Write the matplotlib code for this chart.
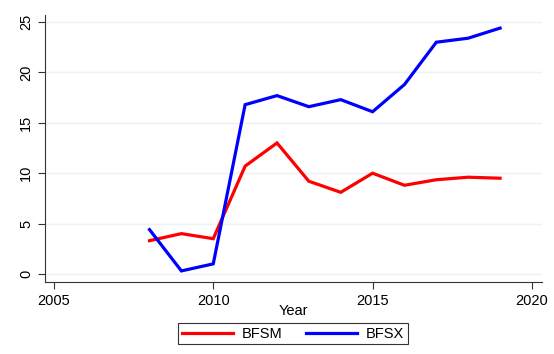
import numpy as np
import matplotlib
matplotlib.use('Agg')
import matplotlib.pyplot as plt

plt.rcParams['font.family'] = ['Liberation Sans', 'DejaVu Sans']

# data
years = [2008, 2009, 2010, 2011, 2012, 2013, 2014, 2015, 2016, 2017, 2018, 2019]
bfsm = [3.3, 4.0, 3.5, 10.7, 13.0, 9.2, 8.1, 10.0, 8.8, 9.35, 9.6, 9.5]
bfsx = [4.4, 0.3, 1.0, 16.8, 17.7, 16.6, 17.3, 16.1, 18.8, 23.0, 23.4, 24.4]
xticks = [2005, 2010, 2015, 2020]
yticks = [0, 5, 10, 15, 20, 25]

fig = plt.figure(figsize=(5.54, 3.54), dpi=100)
ax = fig.add_axes([0.0812, 0.2034, 0.8968, 0.7542])

ax.plot(years, bfsm, color='#ff0000', lw=2.3, label='BFSM', solid_joinstyle='miter')
ax.plot(years, bfsx, color='#0000ff', lw=2.3, label='BFSX', solid_joinstyle='miter')

ax.set_xlim(2004.72, 2020.31)
ax.set_ylim(-0.8, 25.7)
ax.set_xticks(xticks)
ax.set_yticks(yticks)
ax.grid(axis='y', color='#eaf2f3', lw=1)
ax.set_axisbelow(True)
for s in ['top', 'right']:
    ax.spines[s].set_visible(False)
ax.spines['left'].set_color('#333333')
ax.spines['bottom'].set_color('#333333')
ax.tick_params(direction='out', length=5, color='#333333', labelsize=10.5)
for lab in ax.get_yticklabels():
    lab.set_rotation(90)
    lab.set_va('center')
ax.set_xlabel('Year', fontsize=10.5, labelpad=-3)

leg = fig.legend(loc='upper center', bbox_to_anchor=(0.529, 0.0876), ncol=2,
                 frameon=True, fancybox=False, edgecolor='black', fontsize=10.5,
                 handlelength=3.5, columnspacing=1.6, borderpad=0.25,
                 handletextpad=0.6, borderaxespad=0)
leg.get_frame().set_linewidth(0.8)

fig.savefig('out.png', dpi=100)
